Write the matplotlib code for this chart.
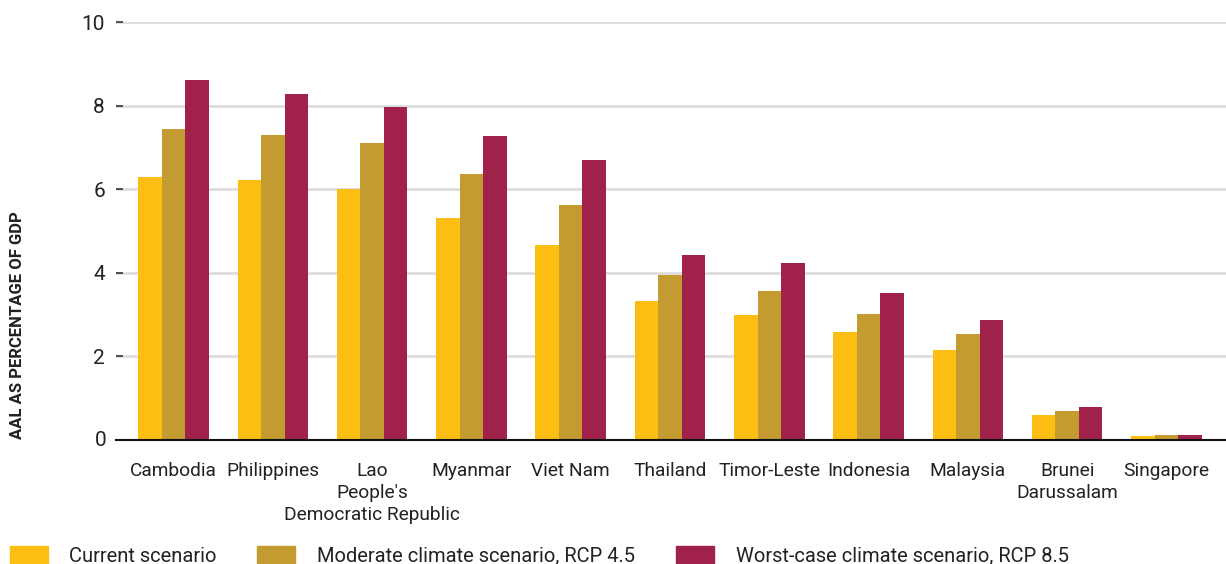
import matplotlib.pyplot as plt
from matplotlib.patches import Rectangle
import numpy as np

plt.rcParams['font.family'] = ['Roboto', 'DejaVu Sans']

# AAL as % of GDP per country and scenario
countries = ['Cambodia', 'Philippines', "Lao\nPeople's\nDemocratic Republic", 'Myanmar',
             'Viet Nam', 'Thailand', 'Timor-Leste', 'Indonesia', 'Malaysia',
             'Brunei\nDarussalam', 'Singapore']
current = [6.29, 6.22, 6.00, 5.31, 4.67, 3.33, 2.99, 2.58, 2.15, 0.60, 0.10]
moderate = [7.44, 7.30, 7.11, 6.36, 5.62, 3.95, 3.56, 3.01, 2.54, 0.69, 0.12]
worst = [8.61, 8.28, 7.97, 7.27, 6.70, 4.43, 4.23, 3.52, 2.87, 0.79, 0.12]

series = ['Current scenario', 'Moderate climate scenario, RCP 4.5',
          'Worst-case climate scenario, RCP 8.5']
colors = ['#FCBE13', '#C39B31', '#A0224B']

W, H = 1226, 564
fig = plt.figure(figsize=(W / 100, H / 100), dpi=100)
ax = fig.add_axes([116 / W, (H - 440) / H, 1 - 116 / W, (440 - 22) / H])

x = np.arange(len(countries))
bw = 0.237
for i, (vals, c) in enumerate(zip([current, moderate, worst], colors)):
    ax.bar(x + (i - 1) * bw, vals, width=bw, color=c, zorder=2)

ax.set_xlim(-0.58, 10.6)
ax.set_ylim(0, 10)
ax.set_yticks([2, 4, 6, 8, 10])
ax.yaxis.grid(True, color='#dddddd', linewidth=2, zorder=0)
ax.set_axisbelow(True)
for s in ['top', 'right', 'left']:
    ax.spines[s].set_visible(False)
ax.spines['bottom'].set_color('#111111')
ax.spines['bottom'].set_linewidth(1.5)
ax.spines['bottom'].set_zorder(3)

ax.tick_params(axis='y', direction='in', length=5, width=1.2, color='#333333',
               pad=8, labelsize=15, labelcolor='#222222')
fig.text(107 / W, (H - 440) / H, '0', fontsize=15, color='#222222',
         ha='right', va='center')

# country names, one text per line so wrapped names sit under their group
ax.set_xticks([])
for xi, name in zip(x, countries):
    for k, line in enumerate(name.split('\n')):
        ax.annotate(line, xy=(xi, 0), xycoords=('data', 'axes fraction'),
                    xytext=(0, -16 - k * 15.8), textcoords='offset points',
                    ha='center', va='top', fontsize=13.8, color='#222222')

fig.text(18 / W, (H - 439) / H, 'AAL AS PERCENTAGE OF GDP', rotation=90,
         family=['Liberation Sans Narrow', 'Roboto'],
         fontsize=12, fontweight='bold', color='#222222', ha='center', va='bottom')

# legend row along the bottom edge
legend_x = [(10, 69), (257, 317), (676, 736)]
for (px, tx), lab, c in zip(legend_x, series, colors):
    fig.add_artist(Rectangle((px / W, -2 / H), 38 / W, 20 / H,
                             transform=fig.transFigure, color=c, clip_on=False))
    fig.text(tx / W, (H - 562) / H, lab, fontsize=14.5, color='#222222',
             ha='left', va='baseline')

fig.savefig('out.png', dpi=100)
